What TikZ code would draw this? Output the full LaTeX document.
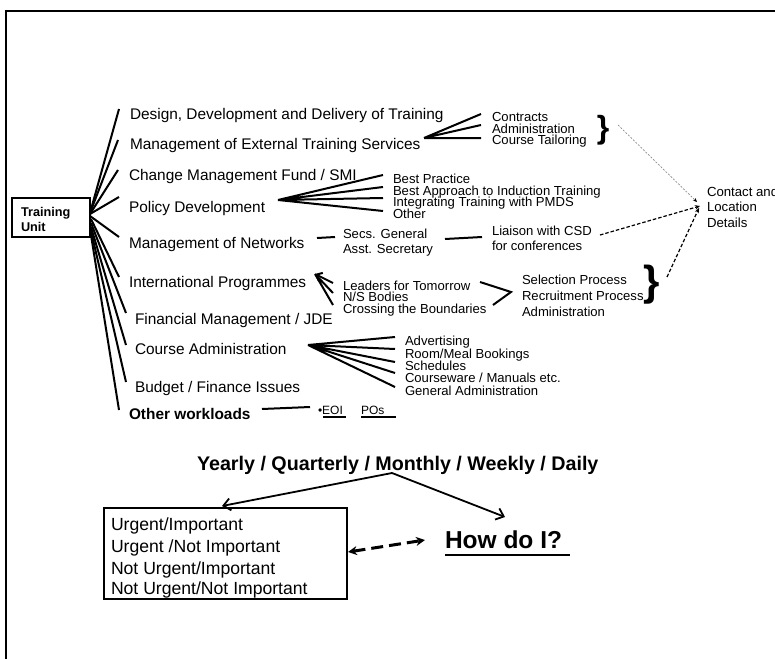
\documentclass[tikz,border=0pt]{standalone}
\usepackage{fontspec}
\setmainfont{Liberation Sans}
\usetikzlibrary{arrows.meta}
\newcommand\fsz[1]{\fontsize{#1}{#1}\selectfont}

\begin{document}
\begin{tikzpicture}[x=1pt,y=-1pt,
  txt/.style={anchor=base west,inner sep=0pt,outer sep=0pt},
  big/.style={txt,font=\fsz{15.4}},
  small/.style={txt,font=\fsz{13.1}},
  fan/.style={line width=2pt},
  framebox/.style={draw,line width=2pt,inner sep=0pt,anchor=north west},
  brace/.style={inner sep=0pt,outer sep=0pt,anchor=center},
  greylink/.style={draw=black!45,line width=0.7pt,dash pattern=on 2pt off 1.5pt,-{Stealth[length=4pt,width=3.5pt,black]}},
  blacklink/.style={line width=1.2pt,dash pattern=on 3.5pt off 2pt,-{Stealth[length=5pt,width=4.5pt]}},
  barb/.style={line width=1.8pt,-{Straight Barb[length=7pt,width=12pt]}}]
\useasboundingbox (0,0) rectangle (775,658);
\clip (0,0) rectangle (775,658);

% page frame (only top and left edges fall inside)
\draw[line width=2pt] (5.5,660) -- (5.5,11) -- (780,11);

% central unit
\node[framebox,minimum width=78pt,minimum height=39pt] (tu) at (11,197) {};
\node[txt,font=\bfseries\fsz{12.7}] (tuA) at (21,216.7) {Training};
\node[txt,font=\bfseries\fsz{12.7}] (tuB) at (21,231.7) {Unit};

% main responsibilities
\node[big] (i1) at (130,119) {Design, Development and Delivery of Training};
\node[big] (i2) at (130,149) {Management of External Training Services};
\node[big] (i3) at (129,180) {Change Management Fund / SMI};
\node[big] (i4) at (129,212) {Policy Development};
\node[big] (i5) at (129,248) {Management of Networks};
\node[big] (i6) at (129,287) {International Programmes};
\node[big] (i7) at (135,324) {Financial Management / JDE};
\node[big] (i8) at (135,354) {Course Administration};
\node[big] (i9) at (135,392) {Budget / Finance Issues};
\node[txt,font=\bfseries\fsz{15.4}] (i10) at (129,419) {Other workloads};

% fan from the unit box
\coordinate (s1) at (90,213);  \coordinate (e1) at (119,109);
\coordinate (s2) at (90,213);  \coordinate (e2) at (118,140);
\coordinate (s3) at (90,214);  \coordinate (e3) at (118,170);
\coordinate (s4) at (90,214);  \coordinate (e4) at (119,197);
\coordinate (s5) at (90,216);  \coordinate (e5) at (119,237);
\coordinate (s6) at (91,219);  \coordinate (e6) at (119,277);
\coordinate (s7) at (91,223);  \coordinate (e7) at (126,313);
\coordinate (s8) at (91,227);  \coordinate (e8) at (126,345);
\coordinate (s9) at (91,231);  \coordinate (e9) at (126,382);
\coordinate (s10) at (91,235); \coordinate (e10) at (119,410);
\foreach \k in {1,...,10} \draw[fan] (s\k) -- (e\k);

% external training services
\node[small] (c1) at (492,121.5) {Contracts};
\node[small] (c2) at (492,133) {Administration};
\node[small] (c3) at (492,144.5) {Course Tailoring};
\coordinate (ch) at (424,138);
\draw[fan] (ch) -- (481,114) (ch) -- (481,125) (ch) -- (481,138);
\node[brace,font=\bfseries\fsz{32}] (b1) at (603,130) {\}};

% policy development
\node[small] (p1) at (393,183) {Best Practice};
\node[small] (p2) at (393,195) {Best Approach to Induction Training};
\node[small] (p3) at (393,206.5) {Integrating Training with PMDS};
\node[small] (p4) at (393,218) {Other};
\coordinate (ph) at (278,200);
\draw[fan] (ph) -- (383,175) (ph) -- (383,187) (ph) -- (383,198) (ph) -- (383,211);

% networks
\node[small] (n1) at (343,238.3) {Secs. General};
\node[small] (n2) at (343,253.3) {Asst. Secretary};
\node[small] (l1) at (492,235) {Liaison with CSD};
\node[small] (l2) at (492,250) {for conferences};
\coordinate (na) at (317,238); \coordinate (nb) at (335,237);
\coordinate (la) at (445,239); \coordinate (lb) at (482,237);
\draw[fan] (na) -- (nb);
\draw[fan] (la) -- (lb);

% international programmes
\node[small] (g1) at (343,290) {Leaders for Tomorrow};
\node[small] (g2) at (343,301.5) {N/S Bodies};
\node[small] (g3) at (343,313) {Crossing the Boundaries};
\coordinate (gt) at (315,274);
\coordinate (ga) at (333,283); \coordinate (gb) at (333,293); \coordinate (gc) at (333,305);
\draw[fan,-{Straight Barb[length=5pt,width=9pt]}] (ga) -- (gt);
\draw[fan] (gb) -- (gt) (gc) -- (gt);
\coordinate (va) at (480,282); \coordinate (vt) at (511,292); \coordinate (vb) at (493,305);
\draw[fan] (va) -- (vt) -- (vb);
\node[small] (r1) at (522,284) {Selection Process};
\node[small] (r2) at (522,300) {Recruitment Process};
\node[small] (r3) at (522,316.5) {Administration};
\node[brace,font=\bfseries\fsz{42}] (b2) at (652,285) {\}};

% course administration
\node[small] (a1) at (405,345.7) {Advertising};
\node[small] (a2) at (405,358.3) {Room/Meal Bookings};
\node[small] (a3) at (405,370) {Schedules};
\node[small] (a4) at (405,382.3) {Courseware / Manuals etc.};
\node[small] (a5) at (405,395) {General Administration};
\coordinate (ah) at (308,345);
\draw[fan] (ah) -- (395,337) (ah) -- (395,349) (ah) -- (395,362) (ah) -- (395,373) (ah) -- (395,387);

% other workloads
\coordinate (oa) at (262,409); \coordinate (ob) at (310,407);
\draw[fan] (oa) -- (ob);
\node[txt,font=\fsz{12}] (o1) at (318,414) {•EOI};
\node[txt,font=\fsz{12}] (o2) at (361,414) {POs};
\draw[line width=1.3pt] (323,417) -- (346,417);
\draw[line width=1.3pt] (361,417) -- (396,417);

% contact details
\node[txt,font=\fsz{13.2}] (k1) at (707,196) {Contact and};
\node[txt,font=\fsz{13.2}] (k2) at (707,211.7) {Location};
\node[txt,font=\fsz{13.2}] (k3) at (707,227.3) {Details};
\coordinate (q1) at (618,125);
\coordinate (q2) at (600,235);
\coordinate (q3) at (667,277);
\draw[greylink] (q1) -- (697,202);
\draw[blacklink] (q2) -- (700,206);
\draw[blacklink] (q3) -- (699,208);

% time horizon
\node[txt,font=\bfseries\fsz{19.7}] (yr) at (197,470) {Yearly / Quarterly / Monthly / Weekly / Daily};
\coordinate (yh) at (392,473);
\coordinate (yl) at (222,506);
\coordinate (yr2) at (505,517);
\draw[barb] (yh) -- (yl);
\draw[barb] (yh) -- (yr2);

% priority matrix
\node[framebox,minimum width=243pt,minimum height=91pt] (pm) at (103,507) {};
\node[txt,font=\fsz{17.6}] (m1) at (111,530) {Urgent/Important};
\node[txt,font=\fsz{17.6}] (m2) at (111,552) {Urgent /Not Important};
\node[txt,font=\fsz{17.6}] (m3) at (111,574) {Not Urgent/Important};
\node[txt,font=\fsz{17.6}] (m4) at (111,594.5) {Not Urgent/Not Important};

\node[txt,font=\bfseries\fsz{24.5}] (hd) at (445,548) {How do I?};
\draw[line width=2.6pt] (445,555) -- (570,555);
\coordinate (da) at (348,552); \coordinate (db) at (425,540);
\draw[line width=3pt,dash pattern=on 12pt off 6pt,{Stealth[length=9pt,width=9pt]}-{Stealth[length=9pt,width=9pt]}] (da) -- (db);
\end{tikzpicture}
\end{document}
